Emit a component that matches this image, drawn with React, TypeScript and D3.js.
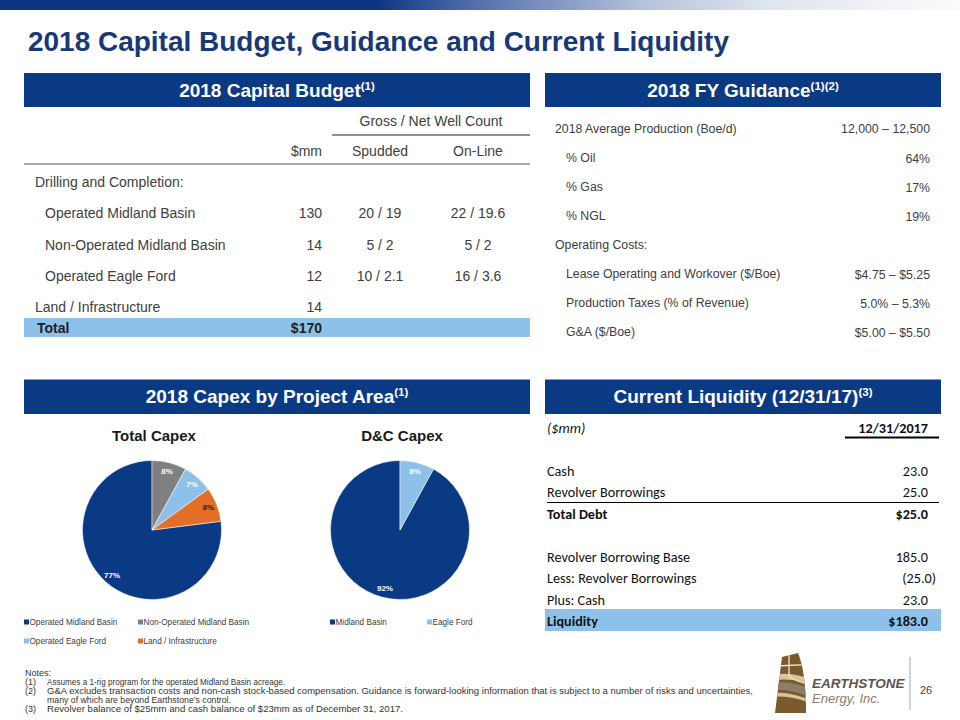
import React from "react";
import * as d3 from "d3";

// ---------- DATA ----------
const TITLE = "2018 Capital Budget, Guidance and Current Liquidity";

const budgetGroupLabel = "Drilling and Completion:";
const budgetItems = ["Operated Midland Basin", "Non-Operated Midland Basin", "Operated Eagle Ford"];
const budgetMM = ["130", "14", "12"];
const budgetSpudded = ["20 / 19", "5 / 2", "10 / 2.1"];
const budgetOnline = ["22 / 19.6", "5 / 2", "16 / 3.6"];
const landLabel = "Land / Infrastructure";
const landMM = "14";
const totalLabel = "Total";
const totalMM = "$170";

const guidanceLabels = [
  "2018 Average Production (Boe/d)",
  "% Oil",
  "% Gas",
  "% NGL",
  "Operating Costs:",
  "Lease Operating and Workover ($/Boe)",
  "Production Taxes (% of Revenue)",
  "G&A ($/Boe)",
];
const guidanceIndent = [0, 1, 1, 1, 0, 1, 1, 1];
const guidanceValues = ["12,000 \u2013 12,500", "64%", "17%", "19%", "", "$4.75 \u2013 $5.25", "5.0% \u2013 5.3%", "$5.00 \u2013 $5.50"];

const liquidityLabels = ["Cash", "Revolver Borrowings", "Total Debt", "", "Revolver Borrowing Base", "Less: Revolver Borrowings", "Plus: Cash", "Liquidity"];
const liquidityValues = ["23.0", "25.0", "$25.0", "", "185.0", "(25.0)", "23.0", "$183.0"];
const liquidityBold = [false, false, true, false, false, false, false, true];

const totalCapexLabels = ["Operated Midland Basin", "Non-Operated Midland Basin", "Operated Eagle Ford", "Land / Infrastructure"];
const totalCapexPct = [77, 8, 7, 8];
const dcCapexLabels = ["Midland Basin", "Eagle Ford"];
const dcCapexPct = [92, 8];

const notesLines = [
  { num: "(1)", text: "Assumes a 1-rig program  for the operated Midland  Basin acreage.", w: 238 },
  { num: "(2)", text: "G&A excludes transaction costs and non-cash stock-based compensation. Guidance is forward-looking information that is subject to a number of risks and uncertainties,", w: 706 },
  { num: "", text: "many of which are beyond Earthstone\u2019s control.", w: 184 },
  { num: "(3)", text: "Revolver balance of $25mm and cash balance of $23mm as of December 31, 2017.", w: 356 },
];

// ---------- STYLE ----------
const NAVY = "#0b3a85";
const LIGHTBLUE = "#8ec1e9";
const GRAY = "#808080";
const ORANGE = "#e36f26";
const TXT = "#404040";
const SANS = "'Liberation Sans', Arial, sans-serif";
const NARROW = "'Liberation Sans Narrow', 'Arial Narrow', 'Liberation Sans', sans-serif";
const CALI = "Carlito, Calibri, Lato, sans-serif";

function HeaderBar({ x, y, w, h, title, sup }: any) {
  return (
    <g>
      <rect x={x} y={y} width={w} height={h} fill={NAVY} />
      <text x={x + w / 2} y={y + h / 2 + 6.5} textAnchor="middle" fill="#fff" fontFamily={SANS} fontWeight="bold" fontSize={19}>
        {title}
        <tspan fontSize={11.5} dy={-7}>{sup}</tspan>
      </text>
    </g>
  );
}

function Pie({ cx, cy, r, values, colors, labelColors, title, legend, legendX, legendRows }: any) {
  const total = d3.sum(values as number[]);
  const start = -2 * Math.PI * (values[0] / total);
  const pie = d3.pie<number>().sort(null).value((d) => d).startAngle(start).endAngle(start + 2 * Math.PI);
  const arcs = pie(values);
  const arc = d3.arc<any>().innerRadius(0).outerRadius(r);
  const labelArc = d3.arc<any>().innerRadius(r * 0.87).outerRadius(r * 0.87);
  return (
    <g>
      <text x={cx + 2} y={cy - 95} textAnchor="middle" dominantBaseline="central" fontFamily={SANS} fontWeight="bold" fontSize={15} fill="#1a1a1a">
        {title}
      </text>
      <g transform={`translate(${cx},${cy})`}>
        {arcs.map((a, i) => (
          <path key={i} d={arc(a) as string} fill={colors[i]} stroke="#fff" strokeWidth={0.5} />
        ))}
        {arcs.map((a, i) => {
          const [lx, ly] = labelArc.centroid(a);
          return (
            <text key={i} x={lx} y={ly} textAnchor="middle" dominantBaseline="central" fontFamily={SANS} fontWeight="bold" fontSize={8} fill={labelColors[i]}>
              {values[i]}%
            </text>
          );
        })}
      </g>
      {legend.map((l: string, i: number) => {
        const col = i % legendX.length;
        const row = Math.floor(i / legendX.length);
        const lx = legendX[col];
        const ly = legendRows[row];
        return (
          <g key={i}>
            <rect x={lx} y={ly - 2.5} width={5} height={5} fill={colors[i]} />
            <text x={lx + 5.5} y={ly} dominantBaseline="central" fontFamily={SANS} fontSize={8.2} fill={TXT}>
              {l}
            </text>
          </g>
        );
      })}
    </g>
  );
}

export default function App() {
  const budgetY = d3.scaleLinear().domain([0, 4]).range([182, 307]);
  const guideY = d3.scaleLinear().domain([0, 7]).range([129, 332]);
  const liqY = d3.scaleLinear().domain([0, 7]).range([471, 621]);

  const mmX = 322;
  const spudX = 380;
  const onX = 478;

  return (
    <div style={{ position: "absolute", left: 0, top: 0 }}>
      <svg width={960} height={720} viewBox="0 0 960 720" style={{ display: "block", background: "#fff" }}>
        <defs>
          <linearGradient id="topband" x1="0" x2="960" y1="0" y2="0" gradientUnits="userSpaceOnUse">
            <stop offset="0" stopColor="#0b3580" />
            <stop offset="0.39" stopColor="#0b3580" />
            <stop offset="0.5" stopColor="#5672ad" />
            <stop offset="0.67" stopColor="#b4c2da" />
            <stop offset="0.8" stopColor="#dfe5ef" />
            <stop offset="1" stopColor="#fbfbfd" />
          </linearGradient>
          <clipPath id="logoClip">
            <path d="M782,657 L798,653 Q806,672 806,713 L775,713 Z" />
          </clipPath>
        </defs>

        <rect x={0} y={0} width={960} height={10} fill="url(#topband)" />

        <text x={28} y={51} fontFamily={NARROW} fontWeight="bold" fontSize={28} fill="#193878" textLength={701} lengthAdjust="spacingAndGlyphs">
          {TITLE}
        </text>

        {/* ---------- Capital budget table ---------- */}
        <HeaderBar x={24} y={73} w={506} h={34} title="2018 Capital Budget" sup="(1)" />
        <g fontFamily={SANS} fontSize={14} fill={TXT}>
          <text x={431} y={121} textAnchor="middle" dominantBaseline="central">Gross / Net Well Count</text>
          <line x1={332} x2={530} y1={135} y2={135} stroke="#222" strokeWidth={1} />
          <text x={mmX} y={151} textAnchor="end" dominantBaseline="central">$mm</text>
          <text x={spudX} y={151} textAnchor="middle" dominantBaseline="central">Spudded</text>
          <text x={onX} y={151} textAnchor="middle" dominantBaseline="central">On-Line</text>
          <line x1={24} x2={530} y1={164} y2={164} stroke="#8c8c8c" strokeWidth={1.5} />

          <text x={35} y={budgetY(0)} dominantBaseline="central">{budgetGroupLabel}</text>
          {budgetItems.map((b, i) => (
            <g key={b}>
              <text x={45} y={budgetY(i + 1)} dominantBaseline="central">{b}</text>
              <text x={mmX} y={budgetY(i + 1)} textAnchor="end" dominantBaseline="central">{budgetMM[i]}</text>
              <text x={spudX} y={budgetY(i + 1)} textAnchor="middle" dominantBaseline="central">{budgetSpudded[i]}</text>
              <text x={onX} y={budgetY(i + 1)} textAnchor="middle" dominantBaseline="central">{budgetOnline[i]}</text>
            </g>
          ))}
          <text x={35} y={budgetY(4)} dominantBaseline="central">{landLabel}</text>
          <text x={mmX} y={budgetY(4)} textAnchor="end" dominantBaseline="central">{landMM}</text>
          <rect x={24} y={318} width={506} height={19} fill={LIGHTBLUE} />
          <text x={37} y={328} dominantBaseline="central" fontWeight="bold" fill="#1f1f1f">{totalLabel}</text>
          <text x={mmX} y={328} textAnchor="end" dominantBaseline="central" fontWeight="bold" fill="#1f1f1f">{totalMM}</text>
        </g>

        {/* ---------- Guidance ---------- */}
        <HeaderBar x={545} y={73} w={396} h={34} title="2018 FY Guidance" sup="(1)(2)" />
        <g fontFamily={SANS} fontSize={12.3} fill={TXT}>
          {guidanceLabels.map((l, i) => (
            <g key={l}>
              <text x={guidanceIndent[i] ? 566 : 555} y={guideY(i)} dominantBaseline="central">{l}</text>
              <text x={930} y={guideY(i) + (i > 0 ? 1 : 0)} textAnchor="end" dominantBaseline="central">{guidanceValues[i]}</text>
            </g>
          ))}
        </g>

        {/* ---------- Capex pies ---------- */}
        <HeaderBar x={24} y={379.5} w={506} h={34.5} title="2018 Capex by Project Area" sup="(1)" />
        <Pie
          cx={152}
          cy={530}
          r={69.5}
          values={totalCapexPct}
          colors={[NAVY, GRAY, LIGHTBLUE, ORANGE]}
          labelColors={["#fff", "#fff", "#fff", "#222"]}
          title="Total Capex"
          legend={totalCapexLabels}
          legendX={[24, 138]}
          legendRows={[622, 641]}
        />
        <Pie
          cx={400}
          cy={530}
          r={69.5}
          values={dcCapexPct}
          colors={[NAVY, LIGHTBLUE]}
          labelColors={["#fff", "#fff"]}
          title="D&C Capex"
          legend={dcCapexLabels}
          legendX={[330, 427]}
          legendRows={[622]}
        />

        {/* ---------- Liquidity ---------- */}
        <HeaderBar x={545} y={379.5} w={396} h={34.5} title="Current Liquidity (12/31/17)" sup="(3)" />
        <g fontFamily={CALI} fontSize={14.2} fill="#111">
          <text x={547} y={428} dominantBaseline="central" fontStyle="italic">($mm)</text>
          <text x={928} y={428} textAnchor="end" dominantBaseline="central" fontWeight="bold">12/31/2017</text>
          <line x1={845} x2={939} y1={437.5} y2={437.5} stroke="#000" strokeWidth={2} />
          <line x1={547} x2={939} y1={502.5} y2={502.5} stroke="#000" strokeWidth={1} />
          <rect x={545} y={liqY(7) - 12} width={396} height={22} fill={LIGHTBLUE} />
          {liquidityLabels.map((l, i) =>
            l ? (
              <g key={i} fontWeight={liquidityBold[i] ? "bold" : "normal"}>
                <text x={547} y={liqY(i)} dominantBaseline="central">{l}</text>
                <text x={liquidityValues[i].endsWith(")") ? 936 : 928} y={liqY(i)} textAnchor="end" dominantBaseline="central">
                  {liquidityValues[i]}
                </text>
              </g>
            ) : null
          )}
        </g>

        {/* ---------- Notes ---------- */}
        <g fontFamily={NARROW} fontSize={9} fill="#333">
          <text x={25} y={673} dominantBaseline="central">Notes:</text>
          {notesLines.map((n, i) => (
            <g key={i}>
              {n.num ? <text x={25} y={682 + i * 9} dominantBaseline="central">{n.num}</text> : null}
              <text x={47} y={682 + i * 9} dominantBaseline="central" textLength={n.w} lengthAdjust="spacingAndGlyphs">
                {n.text}
              </text>
            </g>
          ))}
        </g>

        {/* ---------- Logo ---------- */}
        <g>
          <path d="M782,657 L798,653 Q806,672 806,713 L775,713 Z" fill="#7b5b2b" />
          <g clipPath="url(#logoClip)">
            <path d="M770,675 Q790,671 810,679 L810,684 Q790,677 770,681 Z" fill="#d8c59c" />
            <path d="M770,683 Q790,680 810,689 L810,697 Q790,688 770,690 Z" fill="#8d7d6c" />
            <path d="M770,693 Q790,691 810,700 L810,703 Q790,695 770,697 Z" fill="#d8c59c" />
            <path d="M789,653 L789,674 Q790,680 808,684" fill="none" stroke="#f3ead8" strokeWidth={1.3} />
            <path d="M776,666 L808,664.5" fill="none" stroke="#f3ead8" strokeWidth={1.3} />
          </g>
          <text x={812} y={688} fontFamily={SANS} fontWeight="bold" fontStyle="italic" fontSize={13.5} fill="#5f5349">EARTHSTONE</text>
          <text x={812} y={703} fontFamily={SANS} fontStyle="italic" fontSize={13} fill="#8b7d6e">Energy, Inc.</text>
          <line x1={910} x2={910} y1={657} y2={710} stroke="#c4c4c4" strokeWidth={1.5} />
          <text x={920} y={690} dominantBaseline="central" fontFamily={SANS} fontSize={11} fill={TXT}>26</text>
        </g>
      </svg>
    </div>
  );
}
